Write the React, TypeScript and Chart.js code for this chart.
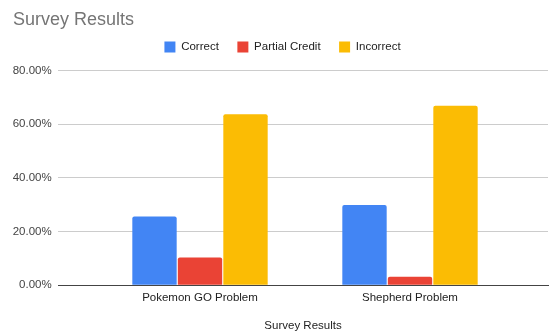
import { useEffect, useRef } from 'react';
import { Chart, registerables, CategoryScale } from 'chart.js';

// Survey answers per problem, in percent of respondents
const categories = ['Pokemon GO Problem', 'Shepherd Problem'];
const seriesNames = ['Correct', 'Partial Credit', 'Incorrect'];
const correct = [25.6, 29.9];
const partialCredit = [10.4, 3.2];
const incorrect = [63.7, 66.9];
const seriesColors = ['#4285F4', '#EA4335', '#FBBC04'];

const chartTitle = 'Survey Results';
const xAxisTitle = 'Survey Results';

// Category scale that keeps the categories inside a narrower band than the plot area,
// so the horizontal grid runs wider than the bar groups.
class InsetCategoryScale extends CategoryScale {
  static id = 'insetCategory';
  configure() {
    super.configure();
    const opts: any = this.options;
    const start = opts.insetStart ?? 0;
    const end = opts.insetEnd ?? 0;
    const self: any = this;
    self._startPixel += start;
    self._length -= start + end;
  }
}

Chart.register(...registerables);
Chart.register(InsetCategoryScale);

// Moves the legend box after layout so it can sit independently of the title row.
const legendNudge = {
  id: 'legendNudge',
  afterLayout(chart: any, _args: any, opts: any) {
    const lg = chart.legend;
    if (!lg) return;
    const dx = opts.dx || 0;
    const dy = opts.dy || 0;
    lg.left += dx;
    lg.right += dx;
    lg.top += dy;
    lg.bottom += dy;
  },
};

const FONT = 'Arial, "Liberation Sans", sans-serif';

export default function App() {
  const canvasRef = useRef<HTMLCanvasElement | null>(null);

  useEffect(() => {
    if (!canvasRef.current) return;
    const values = [correct, partialCredit, incorrect];
    const chart = new Chart(canvasRef.current, {
      type: 'bar',
      data: {
        labels: categories,
        datasets: seriesNames.map((name, i) => ({
          label: name,
          data: values[i],
          backgroundColor: seriesColors[i],
          borderRadius: 2,
          categoryPercentage: 0.65,
          barPercentage: 0.975,
        })),
      },
      plugins: [legendNudge],
      options: {
        animation: false,
        responsive: true,
        maintainAspectRatio: false,
        layout: { padding: { left: 13, right: 2, top: 0, bottom: 0 } },
        font: { family: FONT },
        plugins: {
          title: {
            display: true,
            text: chartTitle,
            align: 'start',
            color: '#757575',
            font: { family: FONT, size: 18, weight: 'normal' },
            padding: { top: 9, bottom: 0 },
          },
          legend: {
            display: true,
            position: 'top',
            labels: {
              boxWidth: 11,
              boxHeight: 11,
              padding: 18.5,
              color: '#222222',
              font: { family: FONT, size: 11.5 },
            },
          },
          tooltip: { enabled: false },
          legendNudge: { dx: 2, dy: -7.85 },
        } as any,
        scales: {
          x: {
            type: 'insetCategory' as any,
            insetStart: 37,
            insetEnd: 33,
            z: 1,
            afterFit: (scale: any) => {
              scale.height = 47.7;
            },
            grid: { display: false, drawTicks: false },
            border: { display: true, color: '#444444', width: 1 },
            ticks: {
              color: '#222222',
              padding: 5.5,
              font: { family: FONT, size: 11.5 },
            },
            title: {
              display: true,
              text: xAxisTitle,
              color: '#222222',
              font: { family: FONT, size: 11.5 },
              padding: { top: 10, bottom: 0 },
            },
          } as any,
          y: {
            min: 0,
            max: 80,
            afterFit: (scale: any) => {
              scale.width = 45;
            },
            grid: { color: '#cccccc', drawTicks: false, lineWidth: 1 },
            border: { display: false },
            ticks: {
              stepSize: 20,
              padding: 6.3,
              color: '#444444',
              font: { family: FONT, size: 11.5 },
              callback: (v: any) => Number(v).toFixed(2) + '%',
            },
          },
        },
      },
    });
    return () => chart.destroy();
  }, []);

  return (
    <div style={{ position: 'fixed', left: 0, top: 0, width: 550, height: 333, background: '#ffffff' }}>
      <canvas ref={canvasRef} />
    </div>
  );
}
